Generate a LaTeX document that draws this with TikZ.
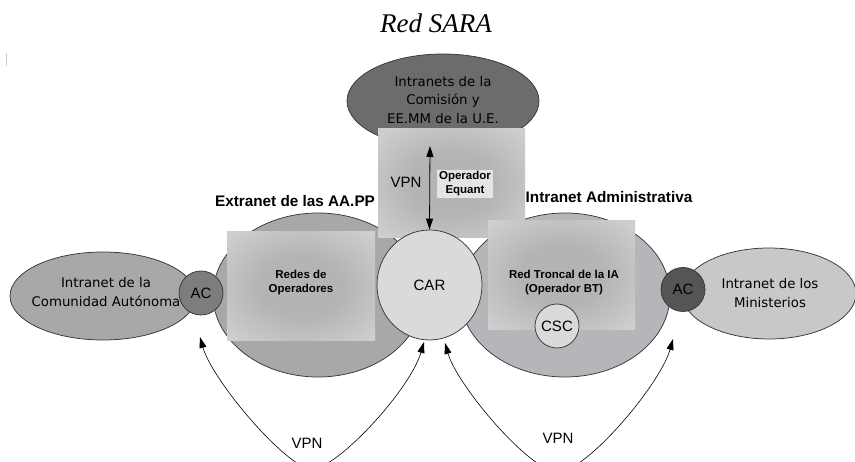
\documentclass[tikz,border=0pt]{standalone}
\usepackage{fontspec}
\setmainfont{Liberation Serif}
\newfontfamily\arialf{Liberation Sans}
\newfontfamily\casualf{DejaVu Sans}
\usetikzlibrary{arrows.meta,shapes.geometric}
\definecolor{topell}{RGB}{108,108,110}
\definecolor{comell}{RGB}{168,168,168}
\definecolor{acleft}{RGB}{125,125,125}
\definecolor{extell}{RGB}{166,168,170}
\definecolor{intell}{RGB}{181,182,185}
\definecolor{acright}{RGB}{85,85,85}
\definecolor{minell}{RGB}{200,200,200}
\definecolor{carfill}{RGB}{218,218,218}
\definecolor{rcin}{RGB}{180,180,180}
\definecolor{rcout}{RGB}{223,223,223}
\definecolor{lblbg}{RGB}{228,228,228}
\pgfdeclareradialshading{rectshade}{\pgfpoint{0bp}{0bp}}{color(0bp)=(rcin); color(14bp)=(rcin); color(46bp)=(rcout); color(50bp)=(rcout)}
\begin{document}
\begin{tikzpicture}[x=1pt,y=-1pt,
  outl/.style={draw=black!78, line width=0.75pt},
  blob/.style={outl, ellipse, inner sep=0pt},
  ring/.style={outl, circle, inner sep=0pt},
  sanslbl/.style={font=\arialf\fontsize{15}{17}\selectfont, inner sep=0pt},
  casual/.style={font=\casualf\fontsize{13.3}{18.5}\selectfont, align=center, inner sep=0pt},
  boldlbl/.style={font=\arialf\bfseries\fontsize{11.5}{14}\selectfont, align=center, inner sep=0pt},
  headlbl/.style={font=\arialf\bfseries\fontsize{15.3}{18}\selectfont, inner sep=0pt},
  tipboth/.style={{Triangle[length=11pt,width=7pt]}-{Triangle[length=11pt,width=7pt]}}
]
\useasboundingbox (0,0) rectangle (855,462);
\clip (0,0) rectangle (855,462);

% stray mark
\draw[black!20, line width=0.8pt] (6.5,53) -- (6.5,66);

% title
\node[font=\itshape\fontsize{27}{30}\selectfont, anchor=base, inner sep=0pt] (title) at (436,33) {Red SARA};

% top ellipse
\node[blob, fill=topell, minimum width=192pt, minimum height=94pt] (ue) at (443,101) {};
\node[casual] (uetxt) at (443,100) {Intranets de la\\Comisión y\\EE.MM de la U.E.};

% big ellipses
\node[blob, fill=extell, minimum width=210pt, minimum height=164pt] (ext) at (318,295) {};
\node[blob, fill=intell, minimum width=210pt, minimum height=164pt] (ia) at (565,295) {};

% small ellipses
\node[blob, fill=comell, minimum width=186pt, minimum height=88pt] (cam) at (103,296) {};
\node[casual] (camtxt) at (106,292) {Intranet de la\\Comunidad Autónoma};
\node[blob, fill=minell, minimum width=174pt, minimum height=91pt] (min) at (769,293.5) {};
\node[casual] (mintxt) at (770,293) {Intranet de los\\Ministerios};

% AC circles
\node[ring, fill=acleft, minimum size=44pt, sanslbl] (acl) at (201,293) {AC};
\node[ring, fill=acright, minimum size=44pt, sanslbl] (acr) at (683,289.5) {AC};

% shaded rectangles
\shade[shading=rectshade] (378,129) rectangle (525,238);
\shade[shading=rectshade] (227,232) rectangle (375,341);
\shade[shading=rectshade] (488,221) rectangle (635,330);

% rectangle labels
\node[boldlbl, fill=lblbg, inner sep=2pt] (equant) at (465,184) {Operador\\Equant};
\node[boldlbl] (redes) at (301,283) {Redes de\\Operadores};
\node[boldlbl] (troncal) at (564,283) {Red Troncal de la IA\\(Operador BT)};
\node[sanslbl] (vpntop) at (406,182) {VPN};

% headings
\node[headlbl] (exthead) at (295,201) {Extranet de las AA.PP};
\node[headlbl] (iahead) at (609,197) {Intranet Administrativa};

% CAR and CSC
\node[outl, ellipse, fill=carfill, minimum width=105pt, minimum height=110pt, inner sep=0pt, sanslbl] (car) at (429.5,285) {CAR};
\node[ring, fill=carfill, minimum size=44pt, sanslbl] (csc) at (557,326) {CSC};

% vertical VPN arrow
\coordinate (vtop) at (430,146);
\draw[line width=0.8pt, tipboth] (vtop) -- (car.north);

% lower VPN arcs
\coordinate (la) at (200,337);
\coordinate (lb) at (312,469);
\coordinate (lc) at (424,342);
\coordinate (ra) at (445,343);
\coordinate (rb) at (558,472);
\coordinate (rc) at (673,339);
\draw[line width=0.6pt, tipboth]
  (la) .. controls (212,380) and (287,469) .. (lb) .. controls (337,469) and (410,390) .. (lc);
\draw[line width=0.6pt, tipboth]
  (ra) .. controls (457,385) and (530,472) .. (rb) .. controls (586,472) and (660,385) .. (rc);
\node[sanslbl] (vpnl) at (307,443) {VPN};
\node[sanslbl] (vpnr) at (558,438) {VPN};
\end{tikzpicture}
\end{document}
